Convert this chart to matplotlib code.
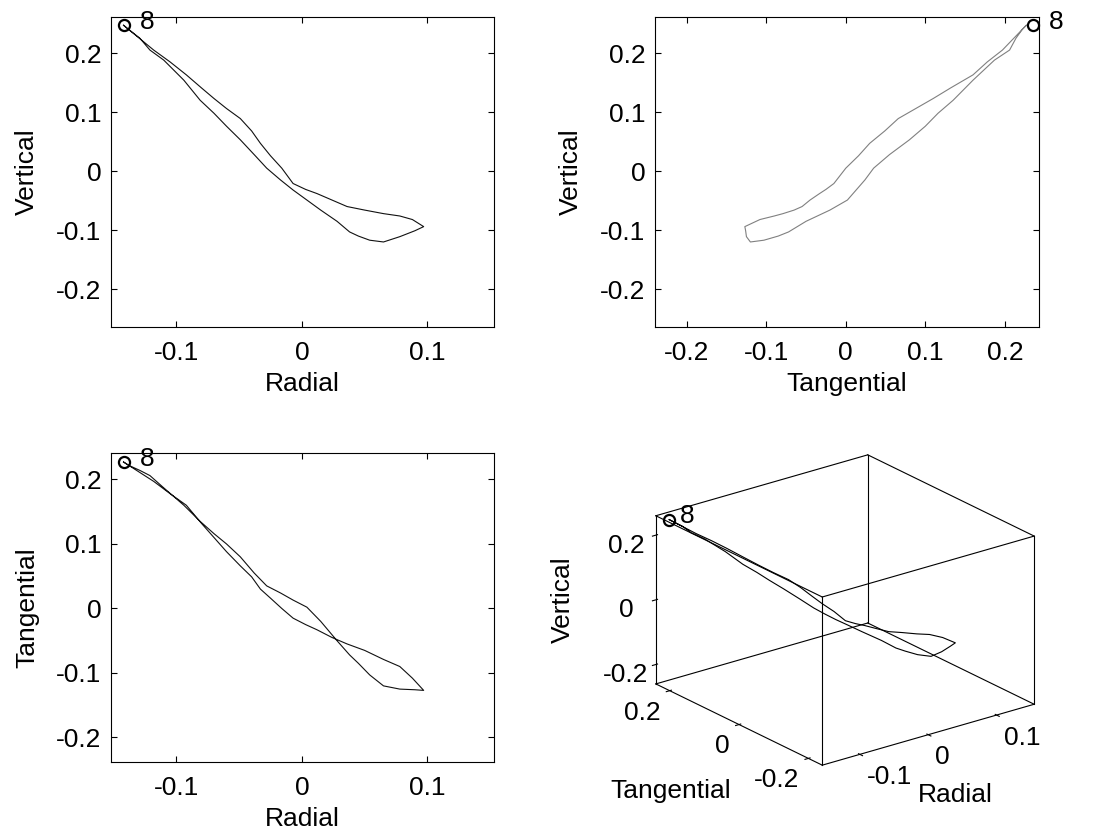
#!/usr/bin/env python3
"""Start-position loop of marker 8 in radial / tangential / vertical coordinates."""
from itertools import product

import matplotlib
matplotlib.use("Agg")
import matplotlib.pyplot as plt
import numpy as np

plt.rcParams["font.family"] = ["Liberation Sans", "DejaVu Sans"]
plt.rcParams["font.size"] = 19

# outbound branch (start -> far tip)
radial_out = [-0.142, -0.130, -0.118, -0.105, -0.092, -0.080, -0.070, -0.060, -0.049, -0.040,
              -0.033, -0.025, -0.016, -0.007, 0.003, 0.012, 0.024, 0.036, 0.050, 0.065,
              0.078, 0.088, 0.097]
tangential_out = [0.227, 0.212, 0.197, 0.178, 0.160, 0.132, 0.110, 0.088, 0.066, 0.049,
                  0.030, 0.016, 0.000, -0.015, -0.025, -0.033, -0.045, -0.055, -0.065, -0.079,
                  -0.090, -0.108, -0.127]
vertical_out = [0.247, 0.226, 0.205, 0.185, 0.163, 0.141, 0.123, 0.106, 0.089, 0.068,
                0.047, 0.026, 0.005, -0.021, -0.031, -0.038, -0.049, -0.060, -0.066, -0.072,
                -0.076, -0.082, -0.094]

# return branch (far tip -> start)
radial_back = [0.090, 0.078, 0.065, 0.054, 0.045, 0.038, 0.028, 0.015, 0.004, -0.007,
               -0.017, -0.028, -0.038, -0.049, -0.060, -0.070, -0.081, -0.094, -0.110, -0.121,
               -0.129, -0.138, -0.142]
tangential_back = [-0.126, -0.125, -0.120, -0.103, -0.085, -0.072, -0.050, -0.020, 0.002, 0.013,
                   0.024, 0.035, 0.055, 0.080, 0.100, 0.116, 0.135, 0.160, 0.187, 0.206,
                   0.214, 0.222, 0.227]
vertical_back = [-0.101, -0.111, -0.120, -0.117, -0.110, -0.103, -0.085, -0.066, -0.049, -0.032,
                 -0.015, 0.005, 0.028, 0.053, 0.076, 0.098, 0.120, 0.154, 0.188, 0.205,
                 0.225, 0.240, 0.247]

marker_label = "8"

radial = np.array(radial_out + radial_back)
tangential = np.array(tangential_out + tangential_back)
vertical = np.array(vertical_out + vertical_back)

W, H = 1096, 836
fig = plt.figure(figsize=(W / 100, H / 100), dpi=100)


def rect(x0, y0, x1, y1):
  return [x0 / W, 1 - y1 / H, (x1 - x0) / W, (y1 - y0) / H]


def style2d(axis, xlim, ylim, xticks, yticks, xlabel, ylabel):
  axis.set_xlim(*xlim)
  axis.set_ylim(*ylim)
  axis.set_xticks(xticks, [f"{t:g}" for t in xticks])
  axis.set_yticks(yticks, [f"{t:g}" for t in yticks])
  axis.tick_params(direction="in", length=4, width=0.8, top=True, right=True, labelsize=19)
  axis.tick_params(axis="x", pad=10)
  axis.tick_params(axis="y", pad=7)
  axis.set_xlabel(xlabel, fontsize=19, labelpad=5)
  axis.set_ylabel(ylabel, fontsize=19, labelpad=12)
  for spine in axis.spines.values():
    spine.set_linewidth(0.8)


def mark_start(axis, x, y):
  axis.plot([x], [y], marker="o", ms=8, mfc="none", mec="black", mew=1.6, clip_on=False)
  axis.annotate(marker_label, (x, y), xytext=(12, 2), textcoords="offset points",
                fontsize=19, va="center", ha="left", annotation_clip=False)


ax1 = fig.add_axes(rect(111, 17, 494, 327))
ax1.plot(radial, vertical, color="#111111", lw=0.8)
mark_start(ax1, radial[0], vertical[0])
style2d(ax1, (-0.152, 0.153), (-0.264, 0.261), [-0.1, 0, 0.1], [-0.2, -0.1, 0, 0.1, 0.2],
        "Radial", "Vertical")

ax2 = fig.add_axes(rect(655, 17, 1039, 327))
ax2.plot(tangential, vertical, color="#808080", lw=0.8)
mark_start(ax2, tangential[0] + 0.008, vertical[0])
style2d(ax2, (-0.24, 0.243), (-0.264, 0.261), [-0.2, -0.1, 0, 0.1, 0.2],
        [-0.2, -0.1, 0, 0.1, 0.2], "Tangential", "Vertical")

ax3 = fig.add_axes(rect(111, 453, 494, 762))
ax3.plot(radial, tangential, color="#111111", lw=0.8)
mark_start(ax3, radial[0], tangential[0])
style2d(ax3, (-0.152, 0.153), (-0.238, 0.241), [-0.1, 0, 0.1], [-0.2, -0.1, 0, 0.1, 0.2],
        "Radial", "Tangential")

ax4 = fig.add_axes(rect(595, 430, 1085, 800), projection="3d")
ax4.set_proj_type("ortho")
ax4.view_init(elev=22, azim=-127.5)
xl, yl, zl = (-0.155, 0.155), (-0.24, 0.24), (-0.26, 0.26)
ax4.set_xlim(*xl)
ax4.set_ylim(*yl)
ax4.set_zlim(*zl)
ax4.set_box_aspect((813, 832, 552), zoom=1.11)
ax4.plot(radial, tangential, vertical, color="black", lw=0.8, clip_on=False)
ax4.plot([radial[0]], [tangential[0]], [vertical[0]], marker="o", ms=8, mfc="none",
         mec="black", mew=1.6, clip_on=False)
ax4.text(radial[0], tangential[0] - 0.03, vertical[0] + 0.005, marker_label, fontsize=19)
for a, b in product(product(xl, yl, zl), repeat=2):
  if sum(u != v for u, v in zip(a, b)) == 1 and a < b:
    ax4.plot(*zip(a, b), color="black", lw=0.8, clip_on=False)
ax4.grid(False)
for axis in (ax4.xaxis, ax4.yaxis, ax4.zaxis):
  axis.pane.set_fill(False)
  axis.pane.set_edgecolor((1, 1, 1, 0))
  axis.line.set_color((1, 1, 1, 0))
ax4.set_xticks([-0.1, 0, 0.1], ["-0.1", "0", "0.1"])
ax4.set_yticks([-0.2, 0, 0.2], ["-0.2", "0", "0.2"])
ax4.set_zticks([-0.2, 0, 0.2], ["-0.2", "0", "0.2"])
ax4.tick_params(labelsize=19)
ax4.tick_params(axis="x", pad=-2)
ax4.tick_params(axis="y", pad=-2)
ax4.tick_params(axis="z", pad=3)
for label in ax4.get_xticklabels():
  label.set_horizontalalignment("left")
for label in ax4.get_yticklabels():
  label.set_horizontalalignment("right")
fig.text(563 / W, 1 - 600 / H, "Vertical", rotation=90, ha="center", va="center", fontsize=19)
fig.text(671 / W, 1 - 791 / H, "Tangential", ha="center", va="center", fontsize=19)
fig.text(955 / W, 1 - 795 / H, "Radial", ha="center", va="center", fontsize=19)

fig.savefig("out.png", dpi=100)
